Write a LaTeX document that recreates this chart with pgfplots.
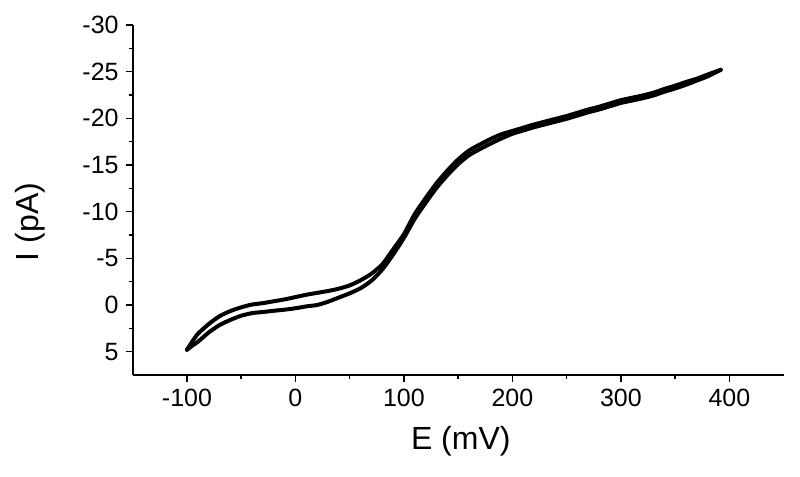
\documentclass[border=0pt]{standalone}
\usepackage{fontspec}
\setmainfont{Liberation Sans}
\usepackage{pgfplots}
\pgfplotsset{compat=1.18}

% sweep out (lower trace) and back (upper trace), E in mV, I in pA
\pgfplotstableread{
E I
-100 4.8
-95 4.35
-90 3.95
-80 2.95
-70 2.15
-60 1.6
-50 1.15
-40 0.87
-30 0.75
-20 0.62
-10 0.5
0 0.35
10 0.15
20 0.0
30 -0.35
40 -0.8
50 -1.25
60 -1.8
70 -2.6
80 -3.8
90 -5.4
100 -7.2
110 -9.25
120 -10.95
130 -12.55
140 -13.9
150 -15.1
160 -16.05
170 -16.7
180 -17.3
190 -17.85
200 -18.35
210 -18.7
220 -19.05
230 -19.35
240 -19.65
250 -19.95
260 -20.3
270 -20.65
280 -20.95
290 -21.3
300 -21.65
310 -21.9
320 -22.15
330 -22.45
340 -22.85
350 -23.2
360 -23.6
370 -24.05
380 -24.5
392 -25.2
}\fwd

\pgfplotstableread{
E I
392 -25.2
380 -24.7
370 -24.25
360 -23.9
350 -23.5
340 -23.15
330 -22.75
320 -22.45
310 -22.2
300 -21.95
290 -21.6
280 -21.25
270 -20.95
260 -20.6
250 -20.25
240 -19.95
230 -19.65
220 -19.35
210 -19.0
200 -18.65
190 -18.3
180 -17.8
170 -17.2
160 -16.55
150 -15.6
140 -14.4
130 -13.05
120 -11.45
110 -9.75
100 -7.6
90 -5.95
80 -4.35
70 -3.35
60 -2.65
50 -2.1
40 -1.75
30 -1.5
20 -1.3
10 -1.1
0 -0.85
-10 -0.6
-20 -0.4
-30 -0.2
-40 -0.05
-50 0.25
-60 0.65
-70 1.2
-80 2.05
-90 3.1
-95 3.9
-100 4.8
}\bwd

\begin{document}
\begin{tikzpicture}
\begin{axis}[
  scale only axis,
  width=325.5pt, height=175pt,
  xmin=-150, xmax=450,
  ymin=-30, ymax=7.5,
  y dir=reverse,
  axis x line=bottom, axis y line=left,
  axis line style={-, line width=1pt},
  xtick={-100,0,...,400},
  ytick={-30,-25,...,5},
  minor x tick num=1, minor y tick num=1,
  tick align=outside,
  major tick length=3.5pt, minor tick length=2pt,
  tick style={black, line width=0.75pt},
  /pgf/number format/assume math mode=true,
  tick label style={font=\fontsize{12.5}{14}\selectfont},
  xlabel={E (mV)}, ylabel={I (pA)},
  label style={font=\fontsize{16}{19}\selectfont},
  xlabel style={at={(axis description cs:0.504,-0.19)}, anchor=center},
  ylabel style={at={(axis description cs:-0.158,0.437)}, anchor=center, rotate=0},
  clip=false,
]
\addplot[black, line width=2pt, line join=round, line cap=round, smooth, tension=0.4] table[x=E, y=I] {\fwd};
\addplot[black, line width=2pt, line join=round, line cap=round, smooth, tension=0.4] table[x=E, y=I] {\bwd};
\coordinate (ll) at (axis description cs:0,0);
\end{axis}
\path (ll) ++(-66.35pt,-51pt) rectangle ++(400pt,238.5pt);
\end{tikzpicture}
\end{document}
